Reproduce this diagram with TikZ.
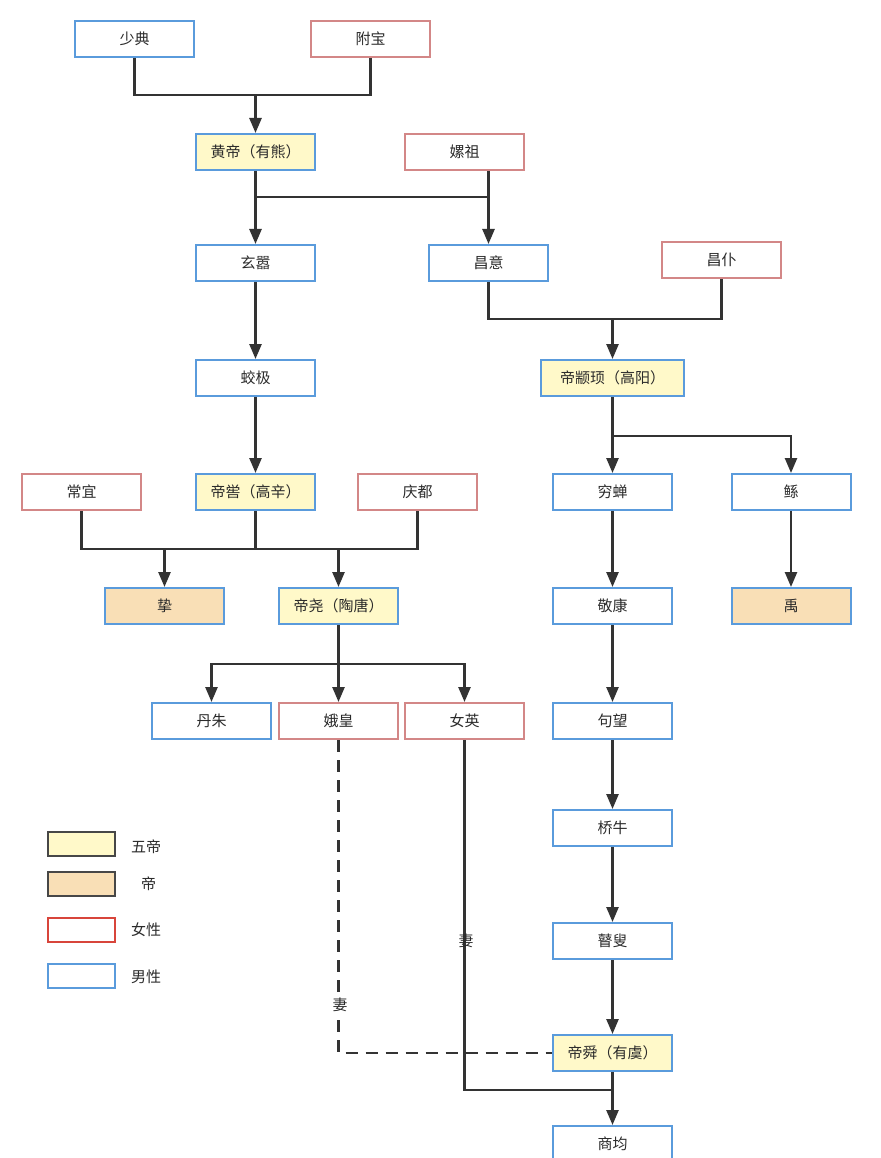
\documentclass[tikz,border=0pt]{standalone}
\usepackage{fontspec}
\setmainfont{Noto Sans CJK SC}
\usetikzlibrary{arrows.meta}
\definecolor{bluebd}{HTML}{5A9BDC}
\definecolor{redbd}{HTML}{D38787}
\definecolor{legred}{HTML}{D8453B}
\definecolor{yel}{HTML}{FFF9C9}
\definecolor{ora}{HTML}{F9DFB6}
\definecolor{ln}{HTML}{333333}
\definecolor{txt}{HTML}{2A2A2A}
\tikzset{
  box/.style={draw, rectangle, line width=2pt, minimum width=119pt, minimum height=36pt, inner sep=0pt, text=txt, font=\fontsize{15}{17}\selectfont},
  male/.style={box, draw=bluebd, fill=white},
  female/.style={box, draw=redbd, fill=white},
  emp/.style={box, draw=bluebd, fill=yel},
  di/.style={box, draw=bluebd, fill=ora},
  conn/.style={draw=ln, line width=2.5pt},
  arr/.style={conn, -{Triangle[length=15pt,width=12pt]}},
  wife/.style={conn, dash pattern=on 12pt off 8pt},
  lab/.style={text=txt, font=\fontsize{15}{17}\selectfont, inner sep=1pt},
  legbox/.style={draw, rectangle, line width=2pt, minimum width=67pt, minimum height=24pt, inner sep=0pt},
  legtxt/.style={text=txt, font=\fontsize{15}{17}\selectfont, anchor=west, inner sep=0pt}
}
\begin{document}
\begin{tikzpicture}[x=1pt,y=-1pt]
\useasboundingbox[fill=white] (0,0) rectangle (880,1158);
% nodes
\node[male] (shaodian) at (134.5,39) {少典};
\node[female] (fubao) at (370.5,39) {附宝};
\node[emp] (huangdi) at (255.5,152) {黄帝（有熊）};
\node[female] (leizu) at (464.5,152) {嫘祖};
\node[male] (xuanxiao) at (255.5,263) {玄嚣};
\node[male] (changyi) at (488.5,263) {昌意};
\node[female] (changpu) at (721.5,260) {昌仆};
\node[male] (jiaoji) at (255.5,378) {蛟极};
\node[emp, minimum width=143pt] (zhuanxu) at (612.5,378) {帝颛顼（高阳）};
\node[female] (changyi2) at (81.5,492) {常宜};
\node[emp] (diku) at (255.5,492) {帝喾（高辛）};
\node[female] (qingdu) at (417.5,492) {庆都};
\node[male] (qiongchan) at (612.5,492) {穷蝉};
\node[male] (gun) at (791,492) {鲧};
\node[di] (zhi) at (164.5,606) {挚};
\node[emp] (yao) at (338.5,606) {帝尧（陶唐）};
\node[male] (jingkang) at (612.5,606) {敬康};
\node[di] (yu) at (791,606) {禹};
\node[male] (danzhu) at (211.5,721) {丹朱};
\node[female] (ehuang) at (338.5,721) {娥皇};
\node[female] (nvying) at (464.5,721) {女英};
\node[male] (juwang) at (612.5,721) {句望};
\node[male] (qiaoniu) at (612.5,828) {桥牛};
\node[male] (gusou) at (612.5,941) {瞽叟};
\node[emp] (shun) at (612.5,1053) {帝舜（有虞）};
\node[male] (shangjun) at (612.5,1144) {商均};
% junction coordinates
\coordinate (j1) at (255.5,95);
\coordinate (j2) at (255.5,197);
\coordinate (j3) at (612.5,319);
\coordinate (j4) at (612.5,436);
\coordinate (j5) at (255.5,549);
\coordinate (j6) at (338.5,664);
\coordinate (j7) at (612.5,1090);
\coordinate (j8) at (338.5,1053);
% connectors
\draw[conn] (shaodian.south) |- (j1) -| (fubao.south);
\draw[arr] (j1) -- (huangdi.north);
\draw[arr] (huangdi.south) -- (xuanxiao.north);
\draw[conn] (j2) -- (j2 -| changyi.north);
\draw[arr] (changyi.north |- leizu.south) -- (changyi.north);
\draw[conn] (changyi.south) |- (j3) -| (changpu.south);
\draw[arr] (j3) -- (zhuanxu.north);
\draw[arr] (xuanxiao.south) -- (jiaoji.north);
\draw[arr] (jiaoji.south) -- (diku.north);
\draw[arr] (zhuanxu.south) -- (qiongchan.north);
\draw[arr] (j4) -| (gun.north);
\draw[conn] (changyi2.south) |- (j5) -| (qingdu.south);
\draw[conn] (diku.south) -- (j5);
\draw[arr] (j5 -| zhi.north) -- (zhi.north);
\draw[arr] (j5 -| yao.north) -- (yao.north);
\draw[arr] (yao.south) -- (ehuang.north);
\draw[arr] (j6) -| (danzhu.north);
\draw[arr] (j6) -| (nvying.north);
\draw[arr] (qiongchan.south) -- (jingkang.north);
\draw[arr] (gun.south) -- (yu.north);
\draw[arr] (jingkang.south) -- (juwang.north);
\draw[arr] (juwang.south) -- (qiaoniu.north);
\draw[arr] (qiaoniu.south) -- (gusou.north);
\draw[arr] (gusou.south) -- (shun.north);
\draw[arr] (shun.south) -- (shangjun.north);
\draw[wife] (ehuang.south) -- (j8) -- (shun.west);
\draw[conn] (nvying.south) |- (j7);
\node[lab, fill=white] (w1) at (340,1005) {妻};
\node[lab] (w2) at (466,941) {妻};
% legend
\node[legbox, draw=ln!90, fill=yel] (l1) at (81.5,844) {};
\node[legbox, draw=ln!90, fill=ora] (l2) at (81.5,884) {};
\node[legbox, draw=legred, fill=white] (l3) at (81.5,930) {};
\node[legbox, draw=bluebd, fill=white] (l4) at (81.5,976) {};
\node[legtxt] (t1) at (131,847) {五帝};
\node[legtxt] (t2) at (141,884) {帝};
\node[legtxt] (t3) at (131,930) {女性};
\node[legtxt] (t4) at (131,977) {男性};
\end{tikzpicture}
\end{document}
